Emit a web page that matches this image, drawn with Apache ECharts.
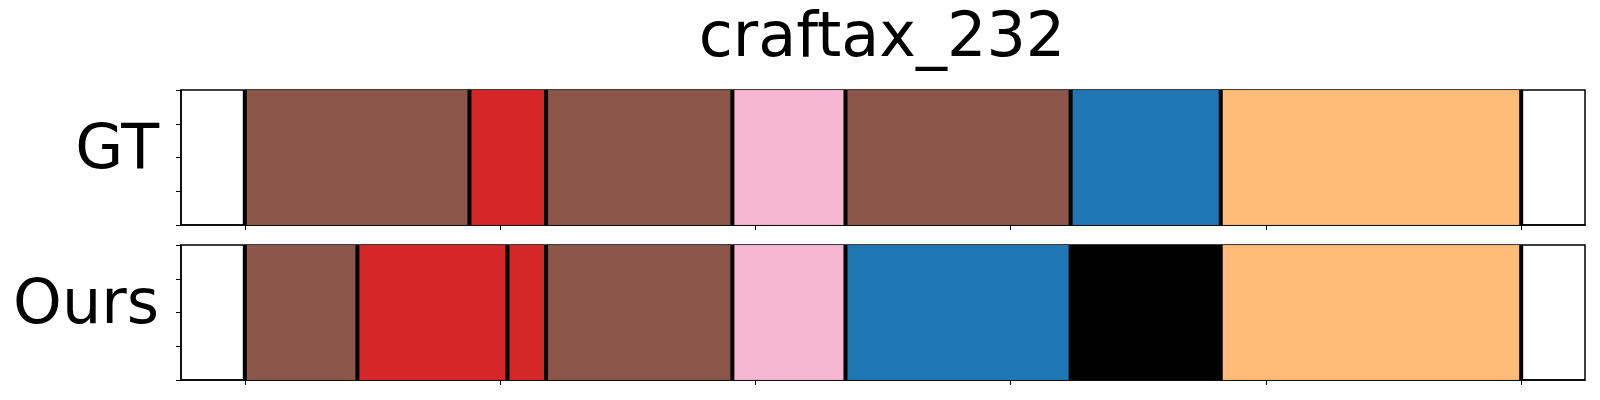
<!DOCTYPE html>
<html>
<head>
<meta charset="utf-8">
<script src="https://cdn.jsdelivr.net/npm/echarts@6/dist/echarts.min.js"></script>
<style>html,body{margin:0;padding:0;background:#fff;}#c{width:1600px;height:400px;}</style>
</head>
<body>
<div id="c"></div>
<script>
var chartTitle = 'craftax_232';
var rowNames = ['GT', 'Ours'];
var gtBounds = [0, 88, 118, 191, 235.3, 323.5, 382.3, 500];
var gtClasses = ['brown', 'red', 'brown', 'pink', 'brown', 'blue', 'orange'];
var oursBounds = [0, 44.1, 102.9, 118, 191, 235.3, 323.5, 382.3, 500];
var oursClasses = ['brown', 'red', 'red', 'brown', 'pink', 'blue', 'black', 'orange'];
var xTicks = [0, 100, 200, 300, 400, 500];
var xRange = [-25, 525];
var yTicks = [0, 0.25, 0.5, 0.75, 1];

var colorMap = {
  brown: '#8c564b', red: '#d62728', pink: '#f7b6d2',
  blue: '#1f77b4', orange: '#ffbb78', black: '#000000'
};

function segData(bounds, classes) {
  var d = [];
  for (var i = 0; i < classes.length; i++) d.push([bounds[i], bounds[i + 1], classes[i]]);
  return d;
}

var grids = [
  {left: 181, right: 15, top: 90, height: 135},
  {left: 181, right: 15, top: 245, height: 135}
];

function segSeries(idx, data) {
  return {
    type: 'custom', xAxisIndex: idx, yAxisIndex: idx, clip: true,
    data: data,
    renderItem: function (params, api) {
      var p0 = api.coord([api.value(0), 1]);
      var p1 = api.coord([api.value(1), 0]);
      var c = colorMap[data[params.dataIndex][2]];
      return {
        type: 'rect',
        shape: {x: p0[0], y: p0[1], width: p1[0] - p0[0], height: p1[1] - p0[1]},
        style: {fill: c, stroke: 'rgba(0,0,0,0.08)', lineWidth: 1}
      };
    }
  };
}
function lineSeries(idx, bounds) {
  return {
    type: 'custom', xAxisIndex: idx, yAxisIndex: idx, clip: false,
    data: bounds.map(function (b) { return [b]; }),
    renderItem: function (params, api) {
      var a = api.coord([api.value(0), 1]);
      var b = api.coord([api.value(0), 0]);
      return {
        type: 'line',
        shape: {x1: a[0], y1: a[1], x2: b[0], y2: b[1]},
        style: {stroke: '#000', lineWidth: 4}
      };
    }
  };
}

function xAx(idx) {
  return {
    type: 'value', gridIndex: idx, min: xRange[0], max: xRange[1],
    axisLine: {show: true, onZero: false, lineStyle: {color: '#000', width: 1.5}},
    axisTick: {show: true, inside: false, length: 5, customValues: xTicks, lineStyle: {color: '#000', width: 1}},
    axisLabel: {show: false}, splitLine: {show: false}
  };
}
function yAx(idx) {
  return {
    type: 'value', gridIndex: idx, min: 0, max: 1, position: 'left',
    axisLine: {show: true, onZero: false, lineStyle: {color: '#000', width: 1.5}},
    axisTick: {show: true, inside: false, length: 5, customValues: yTicks, lineStyle: {color: '#000', width: 1}},
    axisLabel: {show: false}, splitLine: {show: false}
  };
}

var chart = echarts.init(document.getElementById('c'), null, {renderer: 'canvas'});
chart.setOption({
  backgroundColor: '#fff',
  animation: false,
  grid: grids.map(function (g) {
    return Object.assign({show: true, borderColor: '#000', borderWidth: 1.5, backgroundColor: 'transparent'}, g);
  }),
  xAxis: [xAx(0), xAx(1)],
  yAxis: [yAx(0), yAx(1)],
  series: [
    segSeries(0, segData(gtBounds, gtClasses)),
    lineSeries(0, gtBounds),
    segSeries(1, segData(oursBounds, oursClasses)),
    lineSeries(1, oursBounds)
  ],
  graphic: [
    {type: 'text', x: 882, y: 40, style: {text: chartTitle, font: '62px "DejaVu Sans"', fill: '#000', textAlign: 'center', textVerticalAlign: 'middle'}},
    {type: 'text', x: 159, y: 152, style: {text: rowNames[0], font: '62px "DejaVu Sans"', fill: '#000', textAlign: 'right', textVerticalAlign: 'middle'}},
    {type: 'text', x: 159, y: 307, style: {text: rowNames[1], font: '62px "DejaVu Sans"', fill: '#000', textAlign: 'right', textVerticalAlign: 'middle'}}
  ]
});
</script>
</body>
</html>
